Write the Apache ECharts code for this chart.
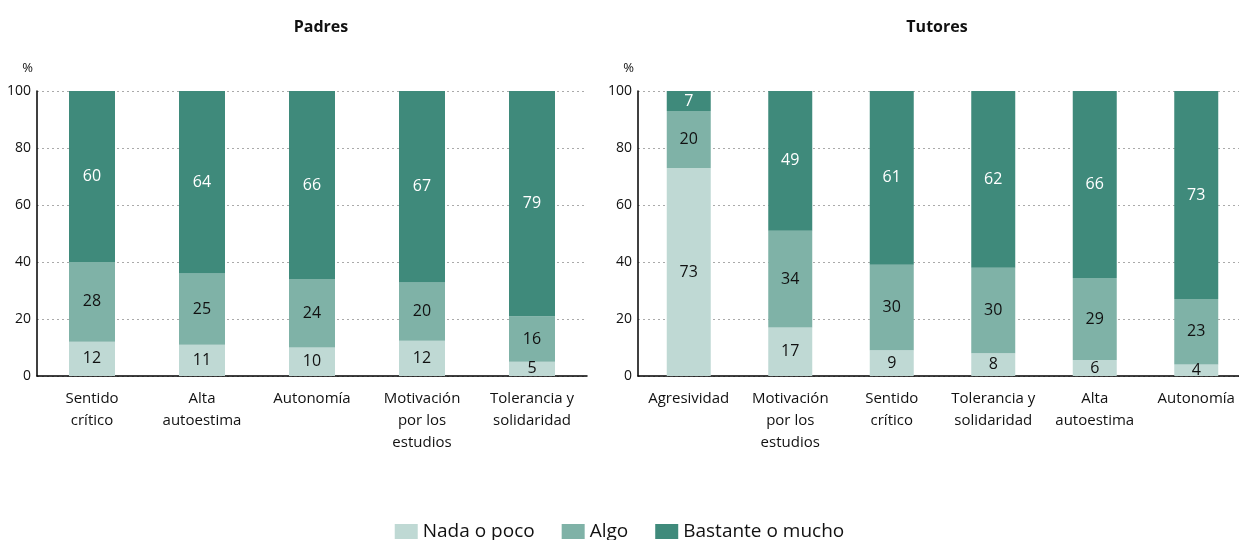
<!DOCTYPE html>
<html>
<head>
<meta charset="utf-8">
<script src="https://cdn.jsdelivr.net/npm/echarts@6/dist/echarts.min.js"></script>
<style>
  html, body { margin: 0; padding: 0; background: #fff; }
  #chart { width: 1239px; height: 540px; }
</style>
</head>
<body>
<div id="chart"></div>
<script>
// Padres
const padresCats = ['Sentido\ncrítico', 'Alta\nautoestima', 'Autonomía', 'Motivación\npor los\nestudios', 'Tolerancia y\nsolidaridad'];
const padresNada = [12, 11, 10, 12.4, 5];
const padresAlgo = [28, 25, 24, 20.4, 16];
const padresBastante = [60, 64, 66, 67.2, 79];

// Tutores
const tutoresCats = ['Agresividad', 'Motivación\npor los\nestudios', 'Sentido\ncrítico', 'Tolerancia y\nsolidaridad', 'Alta\nautoestima', 'Autonomía'];
const tutoresNada = [73, 17, 9, 8, 5.6, 4];
const tutoresAlgo = [20, 34, 30, 30, 28.8, 23];
const tutoresBastante = [7, 49, 61, 62, 65.6, 73];

const yTicks = [0, 20, 40, 60, 80, 100];

const FONT = '"Open Sans", "Noto Sans", sans-serif';
const colors = ['#bfd9d4', '#7fb2a7', '#3f8a7b'];
const names = ['Nada o poco', 'Algo', 'Bastante o mucho'];

let mycharts = echarts.init(document.getElementById('chart'));

function xAxis(idx, cats) {
    return {
        type: 'category',
        gridIndex: idx,
        data: cats,
        axisLine: { show: true, lineStyle: { color: '#000', width: 1.5 } },
        axisTick: { show: false },
        axisLabel: { color: '#111', fontSize: 15, fontFamily: FONT, lineHeight: 22, margin: 12, interval: 0 }
    };
}
function yAxis(idx) {
    return {
        type: 'value',
        gridIndex: idx,
        min: 0, max: 100, interval: 20,
        name: '%',
        nameLocation: 'end',
        nameGap: 16,
        nameTextStyle: { color: '#111', fontSize: 13, fontFamily: FONT, align: 'right', padding: [0, 4, 0, 0] },
        axisLine: { show: true, lineStyle: { color: '#000', width: 1.5 } },
        axisTick: { show: false },
        axisLabel: {
            color: '#111', fontSize: 14, fontFamily: FONT, margin: 6,
            formatter: v => yTicks.includes(v) ? String(v) : ''
        },
        splitLine: { show: true, lineStyle: { color: '#aaa', type: [2, 3], width: 1 } }
    };
}
function series(idx, arrs, barW) {
    return arrs.map((d, i) => ({
        name: names[i],
        type: 'bar',
        stack: 's' + idx,
        xAxisIndex: idx,
        yAxisIndex: idx,
        data: d,
        barWidth: barW,
        itemStyle: { color: colors[i] },
        label: {
            show: true,
            position: 'inside',
            color: i === 2 ? '#fff' : '#111',
            fontSize: 16,
            fontFamily: FONT,
            formatter: p => String(Math.round(p.value))
        }
    }));
}

mycharts.setOption({
    animation: false,
    title: [
        { text: 'Padres', left: 316, top: 14, textAlign: 'center',
          textStyle: { fontSize: 16, fontWeight: 'bold', color: '#111', fontFamily: FONT } },
        { text: 'Tutores', left: 932, top: 14, textAlign: 'center',
          textStyle: { fontSize: 16, fontWeight: 'bold', color: '#111', fontFamily: FONT } }
    ],
    legend: {
        data: names,
        bottom: -6,
        left: 'center',
        itemWidth: 23,
        itemHeight: 15,
        itemGap: 27,
        icon: 'rect',
        textStyle: { fontSize: 19, color: '#111', fontFamily: FONT }
    },
    grid: [
        { left: 37, width: 550, top: 91, bottom: 164 },
        { left: 638, width: 609, top: 91, bottom: 164, outerBoundsMode: 'none' }
    ],
    xAxis: [xAxis(0, padresCats), xAxis(1, tutoresCats)],
    yAxis: [yAxis(0), yAxis(1)],
    series: [
        ...series(0, [padresNada, padresAlgo, padresBastante], 46),
        ...series(1, [tutoresNada, tutoresAlgo, tutoresBastante], 44)
    ]
});
</script>
</body>
</html>
